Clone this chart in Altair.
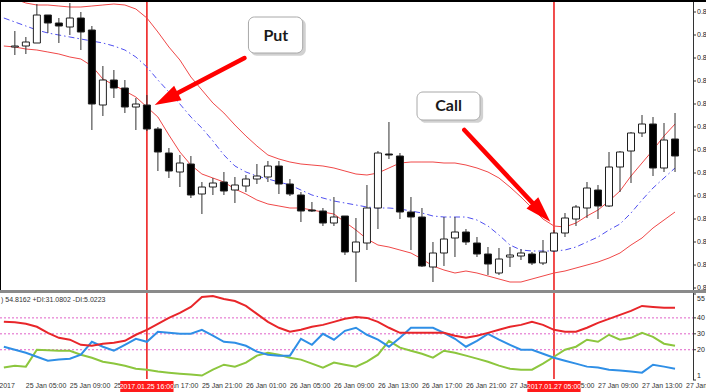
import altair as alt
import pandas as pd

# ---------------- data (prices in points, 1 point = 0.00001) ----------------
CANDLE_IDX = list(range(61))
OPEN = [85765,85770,85785,85925,85885,85865,85910,85850,85475,85600,
        85560,85465,85475,85355,85235,85140,85180,85030,85065,85090,
        85050,85070,85105,85115,85170,85080,85025,84950,84945,84885,
        84920,84740,84785,84960,85230,85220,84940,84915,84665,84735,
        84810,84840,84785,84730,84635,84715,84720,84730,84685,84745,
        84835,84905,84960,85050,84970,85165,85245,85335,85380,85160,85305]
HIGH = [85845,85815,85980,85925,85910,85985,85940,85870,85670,85650,
        85600,85510,85525,85365,85260,85225,85220,85090,85110,85140,
        85115,85125,85180,85195,85195,85105,85040,84990,84960,85015,
        84920,84910,85075,85245,85390,85235,85015,84960,84790,84915,
        84915,84855,84815,84765,84760,84765,84755,84740,84800,84850,
        84935,84975,85090,85075,85240,85245,85340,85425,85415,85385,85435]
LOW = [85725,85730,85785,85835,85785,85825,85750,85350,85420,85510,
       85435,85350,85345,85145,85110,85065,85010,84930,85025,85025,
       84985,85040,85080,85090,85030,85020,84890,84940,84870,84870,
       84725,84590,84750,84855,85205,84905,84750,84665,84590,84670,
       84715,84775,84715,84625,84625,84665,84700,84675,84675,84740,
       84815,84870,84910,84905,84965,85040,85085,85315,85120,85140,85140]
CLOSE = [85770,85790,85925,85885,85870,85910,85840,85480,85600,85560,
         85465,85480,85355,85240,85145,85185,85025,85065,85085,85045,
         85075,85105,85120,85170,85080,85030,84945,84945,84885,84915,
         84740,84790,84960,85235,85225,84940,84915,84670,84735,84805,
         84840,84790,84730,84680,84705,84725,84735,84685,84740,84835,
         84910,84965,85060,84970,85165,85240,85335,85380,85160,85300,85220]

LINE_IDX = list(range(-1, 61))
UPPER = [86020,
         86005,85985,85975,85975,85970,85965,85965,85970,85975,85980,
         85975,85955,85910,85840,85765,85700,85615,85550,85485,85435,
         85375,85320,85270,85225,85205,85190,85180,85175,85170,85160,
         85145,85130,85125,85135,85160,85185,85190,85190,85190,85185,
         85185,85175,85160,85140,85110,85065,85015,84960,84905,84870,
         84865,84885,84920,84950,84995,85045,85120,85185,85250,85320,85380]
LOWER = [85770,
         85765,85755,85750,85740,85730,85715,85705,85670,85605,85575,
         85545,85515,85465,85415,85325,85240,85175,85130,85110,85090,
         85055,85030,85000,84980,84970,84960,84960,84950,84940,84930,
         84890,84850,84805,84775,84765,84750,84735,84705,84670,84650,
         84635,84645,84635,84620,84605,84590,84590,84605,84620,84635,
         84645,84660,84675,84690,84710,84735,84775,84810,84860,84900,84940]
MIDDLE = [85910,
          85890,85870,85850,85835,85825,85815,85805,85795,85785,85770,
          85750,85715,85665,85600,85540,85480,85415,85360,85295,85225,
          85170,85140,85120,85105,85090,85075,85050,85025,85010,84995,
          84985,84975,84965,84960,84960,84955,84945,84935,84920,84915,
          84915,84915,84900,84870,84825,84775,84750,84745,84745,84745,
          84750,84765,84790,84815,84850,84880,84935,85000,85060,85110,85160]

ADX = [37.5, 37.2, 36.3, 34.4, 30.6, 27.5, 26.3, 23.1, 22.5, 23.8, 24.4,
       25.6, 29.4, 32.5, 36.3, 40.0, 43.1, 46.9, 53.1, 53.8, 51.9,
       50.6, 47.5, 42.5, 37.5, 33.8, 31.3, 32.5, 34.4, 35.6, 37.5,
       39.4, 40.6, 40.0, 37.5, 33.8, 30.6, 30.6, 30.6, 30.6, 30.6,
       28.8, 27.5, 28.8, 30.6, 32.5, 34.4, 35.6, 37.5, 35.6, 32.5,
       31.3, 31.3, 33.8, 36.9, 39.4, 41.9, 44.4, 47.5, 46.9, 46.3, 46.3]
PLUS_DI = [21.9, 20.0, 18.1, 15.6, 13.1, 13.8, 14.4, 16.9, 25.0, 21.9, 19.4,
           23.1, 26.9, 25.0, 31.3, 30.6, 30.0, 30.0, 32.5, 28.8, 25.0,
           24.4, 22.5, 18.8, 16.9, 16.3, 16.3, 26.9, 23.1, 30.0, 26.3,
           31.9, 33.8, 29.4, 26.3, 21.9, 27.5, 33.8, 33.8, 33.8, 30.6,
           26.9, 21.9, 25.6, 30.0, 26.3, 23.1, 20.0, 20.0, 17.5, 15.0,
           13.1, 11.3, 9.4, 8.8, 7.5, 6.9, 6.3, 5.6, 10.6, 9.4, 8.1]
MINUS_DI = [8.8, 10.0, 9.4, 20.0, 19.7, 19.4, 19.4, 16.9, 15.0, 12.5, 11.3,
            10.0, 8.1, 7.5, 6.3, 5.6, 5.0, 4.4, 3.8, 7.5, 10.6,
            9.4, 11.9, 16.3, 18.1, 16.9, 15.0, 13.8, 11.3, 8.8, 11.9,
            10.6, 9.4, 12.5, 16.9, 25.6, 21.3, 19.4, 17.5, 15.0, 19.4,
            18.1, 16.3, 14.4, 12.5, 10.0, 8.1, 7.5, 7.5, 11.3, 15.6,
            20.0, 21.9, 26.3, 25.0, 29.4, 26.3, 27.5, 30.6, 28.1, 23.8, 22.5]
ADX_LEVELS = [40, 30, 20]
ADX_TICKS_MID = [40, 30, 20]
ADX_TICK_TOP = [55]
ADX_TICK_BOTTOM = [1]
PRICE_TICKS = [85940, 85825, 85710, 85595, 85480, 85365, 85250,
               85135, 85020, 84905, 84790, 84675, 84560]

TIME_IDX = [-3.5, 1, 5, 9, 13, 17, 21, 25, 29, 33, 37, 41, 45, 49, 53, 57, 61]
TIME_LBL = ["25 Jan 2017", "25 Jan 05:00", "25 Jan 09:00", "25 Jan 13:00",
            "25 Jan 17:00", "25 Jan 21:00", "26 Jan 01:00", "26 Jan 05:00",
            "26 Jan 09:00", "26 Jan 13:00", "26 Jan 17:00", "26 Jan 21:00",
            "27 Jan 01:00", "27 Jan 05:00", "27 Jan 09:00", "27 Jan 13:00",
            "27 Jan 17:00"]
CURSOR_IDX = [12, 49]
CURSOR_LBL = ["2017.01.25 16:00", "2017.01.27 05:00"]

# annotations (in data units: bar index, price points)
CALLOUT_LBL = ["Put", "Call"]
CALLOUT_X1 = [21.23, 36.55]
CALLOUT_X2 = [26.16, 42.28]
CALLOUT_Y1 = [85915, 85540]
CALLOUT_Y2 = [85735, 85400]
CALLOUT_TX = [23.72, 39.42]
CALLOUT_TY = [85822, 85468]
ARROW_ID = ["put", "put", "call", "call"]
ARROW_I = [20.87, 13.76, 40.85, 47.85]
ARROW_P = [85710, 85505, 85350, 84938]
ARROW_ORD = [0, 1, 0, 1]
HEAD_I = [13.76, 47.85]
HEAD_P = [85505, 84938]
HEAD_ANGLE = [242.6, 136.6]

# ---------------- frames ----------------
cdf = pd.DataFrame({"i": CANDLE_IDX, "o": OPEN, "h": HIGH, "l": LOW, "c": CLOSE})
ldf = pd.DataFrame({"i": LINE_IDX, "upper": UPPER, "lower": LOWER, "mid": MIDDLE,
                    "adx": ADX, "pdi": PLUS_DI, "mdi": MINUS_DI})
tdf = pd.DataFrame({"i": TIME_IDX, "lbl": TIME_LBL})
curdf = pd.DataFrame({"i": CURSOR_IDX, "lbl": CURSOR_LBL})
boxdf = pd.DataFrame({"x1": CALLOUT_X1, "x2": CALLOUT_X2, "y1": CALLOUT_Y1,
                      "y2": CALLOUT_Y2, "tx": CALLOUT_TX, "ty": CALLOUT_TY,
                      "lbl": CALLOUT_LBL})
adf = pd.DataFrame({"arrow": ARROW_ID, "i": ARROW_I, "p": ARROW_P, "ord": ARROW_ORD})
hdf = pd.DataFrame({"i": HEAD_I, "p": HEAD_P, "ang": HEAD_ANGLE})
lvdf = pd.DataFrame({"v": ADX_LEVELS})
ptdf = pd.DataFrame({"v": PRICE_TICKS})
one = pd.DataFrame({"a": [0]})

W, H = 693, 379
xs = alt.Scale(domain=[-0.896, 61.18], zero=False, nice=False)
ys = alt.Scale(domain=[84105, 86000], zero=False, nice=False)
adxs = alt.Scale(domain=[1, 55], range=[380, 294], zero=False, nice=False)
FONT = "Liberation Sans"


def X(f="i"):
    return alt.X(f"{f}:Q", scale=xs, axis=None)


def Y(f):
    return alt.Y(f"{f}:Q", scale=ys, axis=None)


def A(f):
    return alt.Y(f"{f}:Q", scale=adxs, axis=None)


# ---------------- main price panel ----------------
upper = alt.Chart(ldf).mark_line(color="#f04848", strokeWidth=1, clip=True).encode(x=X(), y=Y("upper"))
lower = alt.Chart(ldf).mark_line(color="#f04848", strokeWidth=1, clip=True).encode(x=X(), y=Y("lower"))
mid = alt.Chart(ldf).mark_line(color="#5050f0", strokeWidth=1, strokeDash=[6, 3, 1.5, 3],
                               clip=True).encode(x=X(), y=Y("mid"))
vlines = alt.Chart(curdf).mark_rule(color="#ee2020", strokeWidth=1.6).encode(
    x=X(), y=alt.value(0), y2=alt.value(H))
wicks = alt.Chart(cdf).mark_rule(color="#303030", strokeWidth=1).encode(
    x=X(), y=Y("l"), y2="h:Q")
bodies = alt.Chart(cdf).mark_bar(size=7, stroke="#202020", strokeWidth=1).encode(
    x=X(), y=Y("o"), y2="c:Q",
    fill=alt.condition("datum.c >= datum.o", alt.value("white"), alt.value("black")))

arrow_lines = alt.Chart(adf).mark_line(color="#ff0000", strokeWidth=4.5, strokeCap="round").encode(
    x=X(), y=Y("p"), detail="arrow:N", order="ord:Q")
arrow_heads = alt.Chart(hdf).mark_point(shape="M0,-1L0.62,1L-0.62,1Z", size=680, filled=True,
                                        color="#ff0000", opacity=1).encode(
    x=X(), y=Y("p"), angle=alt.Angle("ang:Q", scale=None))
shadow = alt.Chart(boxdf).transform_calculate(
    sx1="datum.x1 + 0.22", sx2="datum.x2 + 0.28", sy1="datum.y1 - 10", sy2="datum.y2 - 14"
).mark_rect(color="#bdbdbd", cornerRadius=6, opacity=0.7).encode(
    x=X("sx1"), x2="sx2:Q", y=Y("sy1"), y2="sy2:Q")
boxes = alt.Chart(boxdf).mark_rect(fill="white", stroke="#a8a8a8", strokeWidth=1,
                                   cornerRadius=6).encode(
    x=X("x1"), x2="x2:Q", y=Y("y1"), y2="y2:Q")
box_text = alt.Chart(boxdf).mark_text(font="Lato", fontWeight="bold", fontSize=16,
                                      color="#1a1a1a", baseline="middle").encode(
    x=X("tx"), y=Y("ty"), text="lbl:N")

# right price scale drawn from the price scale
price_ticks = alt.Chart(ptdf).mark_rule(color="#333", strokeWidth=1).encode(
    x=alt.value(693), x2=alt.value(696), y=Y("v"))
price_labels = alt.Chart(ptdf).transform_calculate(
    t="format(datum.v / 100000, '.5f')").mark_text(
    align="left", baseline="middle", font=FONT, fontSize=7, color="#222").encode(
    x=alt.value(697), y=Y("v"), text="t:N")

main = alt.layer(vlines, upper, lower, mid, wicks, bodies,
                 arrow_lines, arrow_heads, shadow, boxes, box_text,
                 price_ticks, price_labels)

# ---------------- ADX panel ----------------
levels = alt.Chart(lvdf).mark_rule(color="#e060c8", strokeWidth=1, strokeDash=[2, 2]).encode(
    y=A("v"), x=alt.value(0), x2=alt.value(W))
adx_line = alt.Chart(ldf).mark_line(color="#e8262a", strokeWidth=2, clip=True).encode(x=X(), y=A("adx"))
pdi_line = alt.Chart(ldf).mark_line(color="#2f8fe6", strokeWidth=2, clip=True).encode(x=X(), y=A("pdi"))
mdi_line = alt.Chart(ldf).mark_line(color="#8cc63e", strokeWidth=2, clip=True).encode(x=X(), y=A("mdi"))

adx_tick_df = pd.DataFrame({"v": ADX_TICK_TOP + ADX_TICKS_MID + ADX_TICK_BOTTOM})
adx_ticks = alt.Chart(adx_tick_df).mark_rule(color="#333", strokeWidth=1).encode(
    x=alt.value(693), x2=alt.value(696), y=A("v"))
adx_lbl_mid = alt.Chart(pd.DataFrame({"v": ADX_TICKS_MID})).mark_text(
    align="left", baseline="middle", font=FONT, fontSize=7, color="#222").encode(
    x=alt.value(697), y=A("v"), text="v:Q")
adx_lbl_top = alt.Chart(pd.DataFrame({"v": ADX_TICK_TOP})).mark_text(
    align="left", baseline="top", font=FONT, fontSize=7, color="#222", dy=1).encode(
    x=alt.value(697), y=A("v"), text="v:Q")
adx_lbl_bot = alt.Chart(pd.DataFrame({"v": ADX_TICK_BOTTOM})).mark_text(
    align="left", baseline="bottom", font=FONT, fontSize=7, color="#222", dy=-1).encode(
    x=alt.value(697), y=A("v"), text="v:Q")
panel2 = alt.layer(levels, mdi_line, pdi_line, adx_line,
                   adx_ticks, adx_lbl_mid, adx_lbl_top, adx_lbl_bot)

# ---------------- decorations / labels ----------------
right_border = alt.Chart(one).mark_rule(color="#333", strokeWidth=1).encode(
    x=alt.value(693.5), y=alt.value(0), y2=alt.value(380))
separator = alt.Chart(one).mark_rule(color="#8a8a8a", strokeWidth=3).encode(
    x=alt.value(0), x2=alt.value(706), y=alt.value(291.5))
top_border = alt.Chart(one).mark_rule(color="black", strokeWidth=4).encode(
    x=alt.value(0), x2=alt.value(706), y=alt.value(0))
left_border = alt.Chart(one).mark_rule(color="black", strokeWidth=2).encode(
    x=alt.value(0), y=alt.value(0), y2=alt.value(290))
adx_title = alt.Chart(pd.DataFrame({"t": [") 54.8162 +DI:31.0802 -DI:5.0223"]})).mark_text(
    align="left", baseline="middle", font=FONT, fontSize=7, color="#333").encode(
    x=alt.value(1), y=alt.value(299.5), text="t:N")
time_labels = alt.Chart(tdf).mark_text(align="left", baseline="middle", font=FONT,
                                       fontSize=7, color="#333").encode(
    x=X(), y=alt.value(386), text="lbl:N")
cursor_box = alt.Chart(curdf).transform_calculate(
    a="datum.i - 2.42", b="datum.i + 2.42").mark_rect(color="#ff1a1a").encode(
    x=X("a"), x2="b:Q", y=alt.value(381), y2=alt.value(392))
cursor_text = alt.Chart(curdf).mark_text(font=FONT, fontSize=7, color="white",
                                         baseline="middle").encode(
    x=X(), y=alt.value(386.5), text="lbl:N")

chart = alt.layer(
    main, panel2, right_border, separator, top_border, left_border, adx_title,
    time_labels, cursor_box, cursor_text
).resolve_scale(y="independent").properties(
    width=W, height=H,
    autosize=alt.AutoSizeParams(type="none"),
    padding={"left": 0, "top": 0, "right": 13, "bottom": 13},
    background="white",
).configure_view(stroke=None)

chart.save("out.html", embed_options={"renderer": "svg", "actions": False})
